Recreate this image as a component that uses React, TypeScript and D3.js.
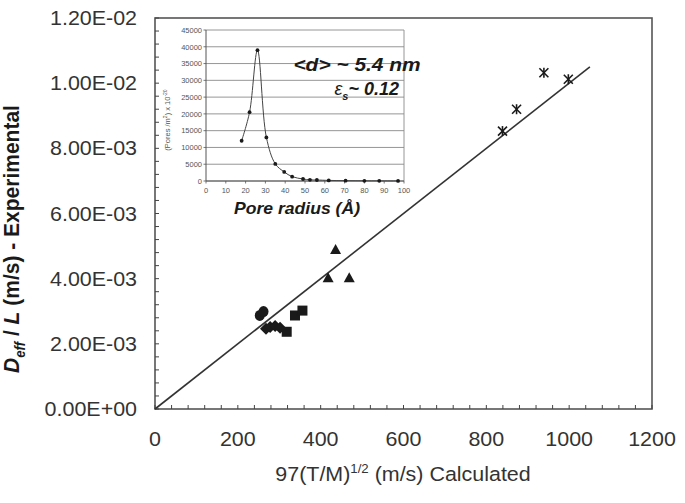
import React from "react";
import * as d3 from "d3";

// ---- Data ----
const circlePts = [
  { x: 253, y: 0.00287 },
  { x: 262, y: 0.00299 },
];
const diamondPts = [
  { x: 268, y: 0.00246 },
  { x: 278, y: 0.00252 },
  { x: 290, y: 0.00255 },
  { x: 302, y: 0.00249 },
];
const squarePts = [
  { x: 338, y: 0.00287 },
  { x: 356, y: 0.00302 },
  { x: 318, y: 0.00237 },
];
const trianglePts = [
  { x: 436, y: 0.00488 },
  { x: 418, y: 0.00401 },
  { x: 469, y: 0.00401 },
];
const starPts = [
  { x: 839, y: 0.00853 },
  { x: 873, y: 0.0092 },
  { x: 939, y: 0.01032 },
  { x: 998, y: 0.01012 },
];
const fitLine = [
  { x: 0, y: 0 },
  { x: 1050, y: 0.0105 },
];
const xTicks = [0, 200, 400, 600, 800, 1000, 1200];
const yTicks = [0, 0.002, 0.004, 0.006, 0.008, 0.01, 0.012];
const yTickLabels = ["0.00E+00", "2.00E-03", "4.00E-03", "6.00E-03", "8.00E-03", "1.00E-02", "1.20E-02"];

const insetRadius = [18, 22, 26, 30.5, 35, 39.5, 43.5, 49, 52.5, 56, 62, 70.5, 80, 87.5, 97];
const insetPores = [12000, 20500, 39000, 13000, 5100, 2700, 1300, 600, 350, 300, 180, 100, 60, 40, 20];
const insetXTicks = [0, 10, 20, 30, 40, 50, 60, 70, 80, 90, 100];
const insetYTicks = [0, 5000, 10000, 15000, 20000, 25000, 30000, 35000, 40000, 45000];

const FONT = "'Liberation Sans', Arial, Helvetica, sans-serif";
const SX = 1.1;

export default function App() {
  const x = d3.scaleLinear().domain([0, 1200]).range([155, 652]);
  const y = d3.scaleLinear().domain([0, 0.012]).range([409, 18]);
  const ix = d3.scaleLinear().domain([0, 100]).range([206, 404]);
  const iy = d3.scaleLinear().domain([0, 45000]).range([181, 30]);

  const xMinor = d3.range(0, 1201, 40);
  const yMinor = d3.range(0, 0.01201, 0.0004);

  const lineGen = d3
    .line<{ x: number; y: number }>()
    .x((d) => x(d.x))
    .y((d) => y(d.y));

  const insetData = insetRadius.map((r, i) => ({ r, p: insetPores[i] }));
  const insetLine = d3
    .line<{ r: number; p: number }>()
    .x((d) => ix(d.r))
    .y((d) => iy(d.p))
    .curve(d3.curveCatmullRom.alpha(0.5));

  const ink = "#1a1a1a";
  const txt = "#333";

  return (
    <svg
      width={685}
      height={503}
      style={{ position: "absolute", left: 0, top: 0, background: "#fff" }}
      fontFamily={FONT}
    >
      <rect x={0} y={0} width={685} height={503} fill="#fff" />

      {/* Main frame */}
      <rect x={155} y={18} width={652 - 155} height={409 - 18} fill="none" stroke="#555" strokeWidth={1.6} />

      {/* minor ticks */}
      {xMinor.map((v) => (
        <line key={"xm" + v} x1={x(v)} x2={x(v)} y1={409} y2={405} stroke="#444" strokeWidth={1} />
      ))}
      {yMinor.map((v, i) => (
        <line key={"ym" + i} x1={155} x2={159} y1={y(v)} y2={y(v)} stroke="#444" strokeWidth={1} />
      ))}

      {/* tick labels */}
      {xTicks.map((v) => (
        <text
          key={"xt" + v}
          transform={`translate(${x(v)},${446}) scale(${SX},1)`}
          textAnchor="middle"
          fontSize={19.5}
          fill={txt}
        >
          {v}
        </text>
      ))}
      {yTicks.map((v, i) => (
        <text
          key={"yt" + i}
          transform={`translate(${137},${y(v) + 7}) scale(${SX},1)`}
          textAnchor="end"
          fontSize={19.5}
          fill={txt}
        >
          {yTickLabels[i]}
        </text>
      ))}

      {/* axis titles */}
      <text
        transform={`translate(403,481) scale(${SX},1)`}
        textAnchor="middle"
        fontSize={19.5}
        fill={txt}
      >
        97(T/M)
        <tspan fontSize={12} dy={-8}>1/2</tspan>
        <tspan dy={8}> (m/s) Calculated</tspan>
      </text>
      <text
        transform={`translate(19,239) rotate(-90) scale(1.05,${SX})`}
        textAnchor="middle"
        fontSize={20}
        fontWeight="bold"
        fill={ink}
      >
        <tspan fontStyle="italic">D</tspan>
        <tspan fontStyle="italic" fontSize={12.5} dy={5}>eff</tspan>
        <tspan dy={-5}> / </tspan>
        <tspan fontStyle="italic">L</tspan>
        <tspan> (m/s) - Experimental</tspan>
      </text>

      {/* fit line */}
      <path d={lineGen(fitLine) || ""} fill="none" stroke="#333" strokeWidth={1.6} />

      {/* markers */}
      {circlePts.map((d, i) => (
        <ellipse key={"c" + i} cx={x(d.x)} cy={y(d.y)} rx={5} ry={5.5} fill={ink} />
      ))}
      {diamondPts.map((d, i) => (
        <path
          key={"d" + i}
          d={`M${x(d.x)},${y(d.y) - 6}L${x(d.x) + 6},${y(d.y)}L${x(d.x)},${y(d.y) + 6}L${x(d.x) - 6},${y(d.y)}Z`}
          fill={ink}
        />
      ))}
      {squarePts.map((d, i) => (
        <rect key={"s" + i} x={x(d.x) - 5} y={y(d.y) - 5} width={10} height={10} fill={ink} />
      ))}
      {trianglePts.map((d, i) => (
        <path
          key={"t" + i}
          d={`M${x(d.x)},${y(d.y) - 6}L${x(d.x) + 5.5},${y(d.y) + 4}L${x(d.x) - 5.5},${y(d.y) + 4}Z`}
          fill={ink}
        />
      ))}
      {starPts.map((d, i) => {
        const cx = x(d.x);
        const cy = y(d.y);
        const r = 4.5;
        return (
          <g key={"st" + i} stroke={ink} strokeWidth={1.6}>
            <line x1={cx - r} y1={cy - r} x2={cx + r} y2={cy + r} />
            <line x1={cx - r} y1={cy + r} x2={cx + r} y2={cy - r} />
            <line x1={cx} y1={cy - r - 0.5} x2={cx} y2={cy + r + 0.5} />
          </g>
        );
      })}

      {/* ---- Inset ---- */}
      <g>
        {insetYTicks.map((v) => (
          <line key={"ig" + v} x1={ix(0)} x2={ix(100)} y1={iy(v)} y2={iy(v)} stroke="#8a8a8a" strokeWidth={0.9} />
        ))}
        <line x1={ix(100)} x2={ix(100)} y1={iy(45000)} y2={iy(0)} stroke="#8a8a8a" strokeWidth={0.9} />
        <line x1={ix(0)} x2={ix(0)} y1={iy(45000)} y2={iy(0)} stroke="#555" strokeWidth={1} />
        <line x1={ix(0)} x2={ix(100)} y1={iy(0)} y2={iy(0)} stroke="#555" strokeWidth={1} />
        {insetXTicks.map((v) => (
          <line key={"ixt" + v} x1={ix(v)} x2={ix(v)} y1={iy(0)} y2={iy(0) + 2.5} stroke="#555" strokeWidth={0.8} />
        ))}
        {insetYTicks.map((v) => (
          <line key={"iyt" + v} x1={ix(0) - 2.5} x2={ix(0)} y1={iy(v)} y2={iy(v)} stroke="#555" strokeWidth={0.8} />
        ))}
        {insetYTicks.map((v) => (
          <text key={"iyl" + v} x={ix(0) - 4} y={iy(v) + 2.8} textAnchor="end" fontSize={7.5} fill="#555">
            {v}
          </text>
        ))}
        {insetXTicks.map((v) => (
          <text key={"ixl" + v} x={ix(v)} y={iy(0) + 11.5} textAnchor="middle" fontSize={7.5} fill="#555">
            {v}
          </text>
        ))}
        <text
          transform={`translate(170,120) rotate(-90)`}
          textAnchor="middle"
          fontSize={7.5}
          fill="#555"
        >
          (Pores /m
          <tspan fontSize={5} dy={-3}>2</tspan>
          <tspan dy={3}>) x 10</tspan>
          <tspan fontSize={5} dy={-3}>-20</tspan>
        </text>
        <path d={insetLine(insetData) || ""} fill="none" stroke="#444" strokeWidth={1} />
        {insetData.map((d, i) => (
          <circle key={"ip" + i} cx={ix(d.r)} cy={iy(d.p)} r={1.9} fill={ink} />
        ))}
        <text
          transform={`translate(297,214) scale(${SX},1)`}
          textAnchor="middle"
          fontSize={16}
          fontWeight="bold"
          fontStyle="italic"
          fill={ink}
        >
          Pore radius (Å)
        </text>
        <text
          transform={`translate(357,71) scale(${SX},1)`}
          textAnchor="middle"
          fontSize={19}
          fontWeight="bold"
          fontStyle="italic"
          fill={ink}
        >
          {"<d> ~ 5.4 nm"}
        </text>
        <text
          transform={`translate(399,95)`}
          textAnchor="end"
          fontSize={18}
          fontWeight="bold"
          fontStyle="italic"
          fill={ink}
        >
          <tspan fontWeight="normal">ε</tspan>
          <tspan fontSize={11} dy={5}>s</tspan>
          <tspan dy={-5}>~ 0.12</tspan>
        </text>
      </g>
    </svg>
  );
}
